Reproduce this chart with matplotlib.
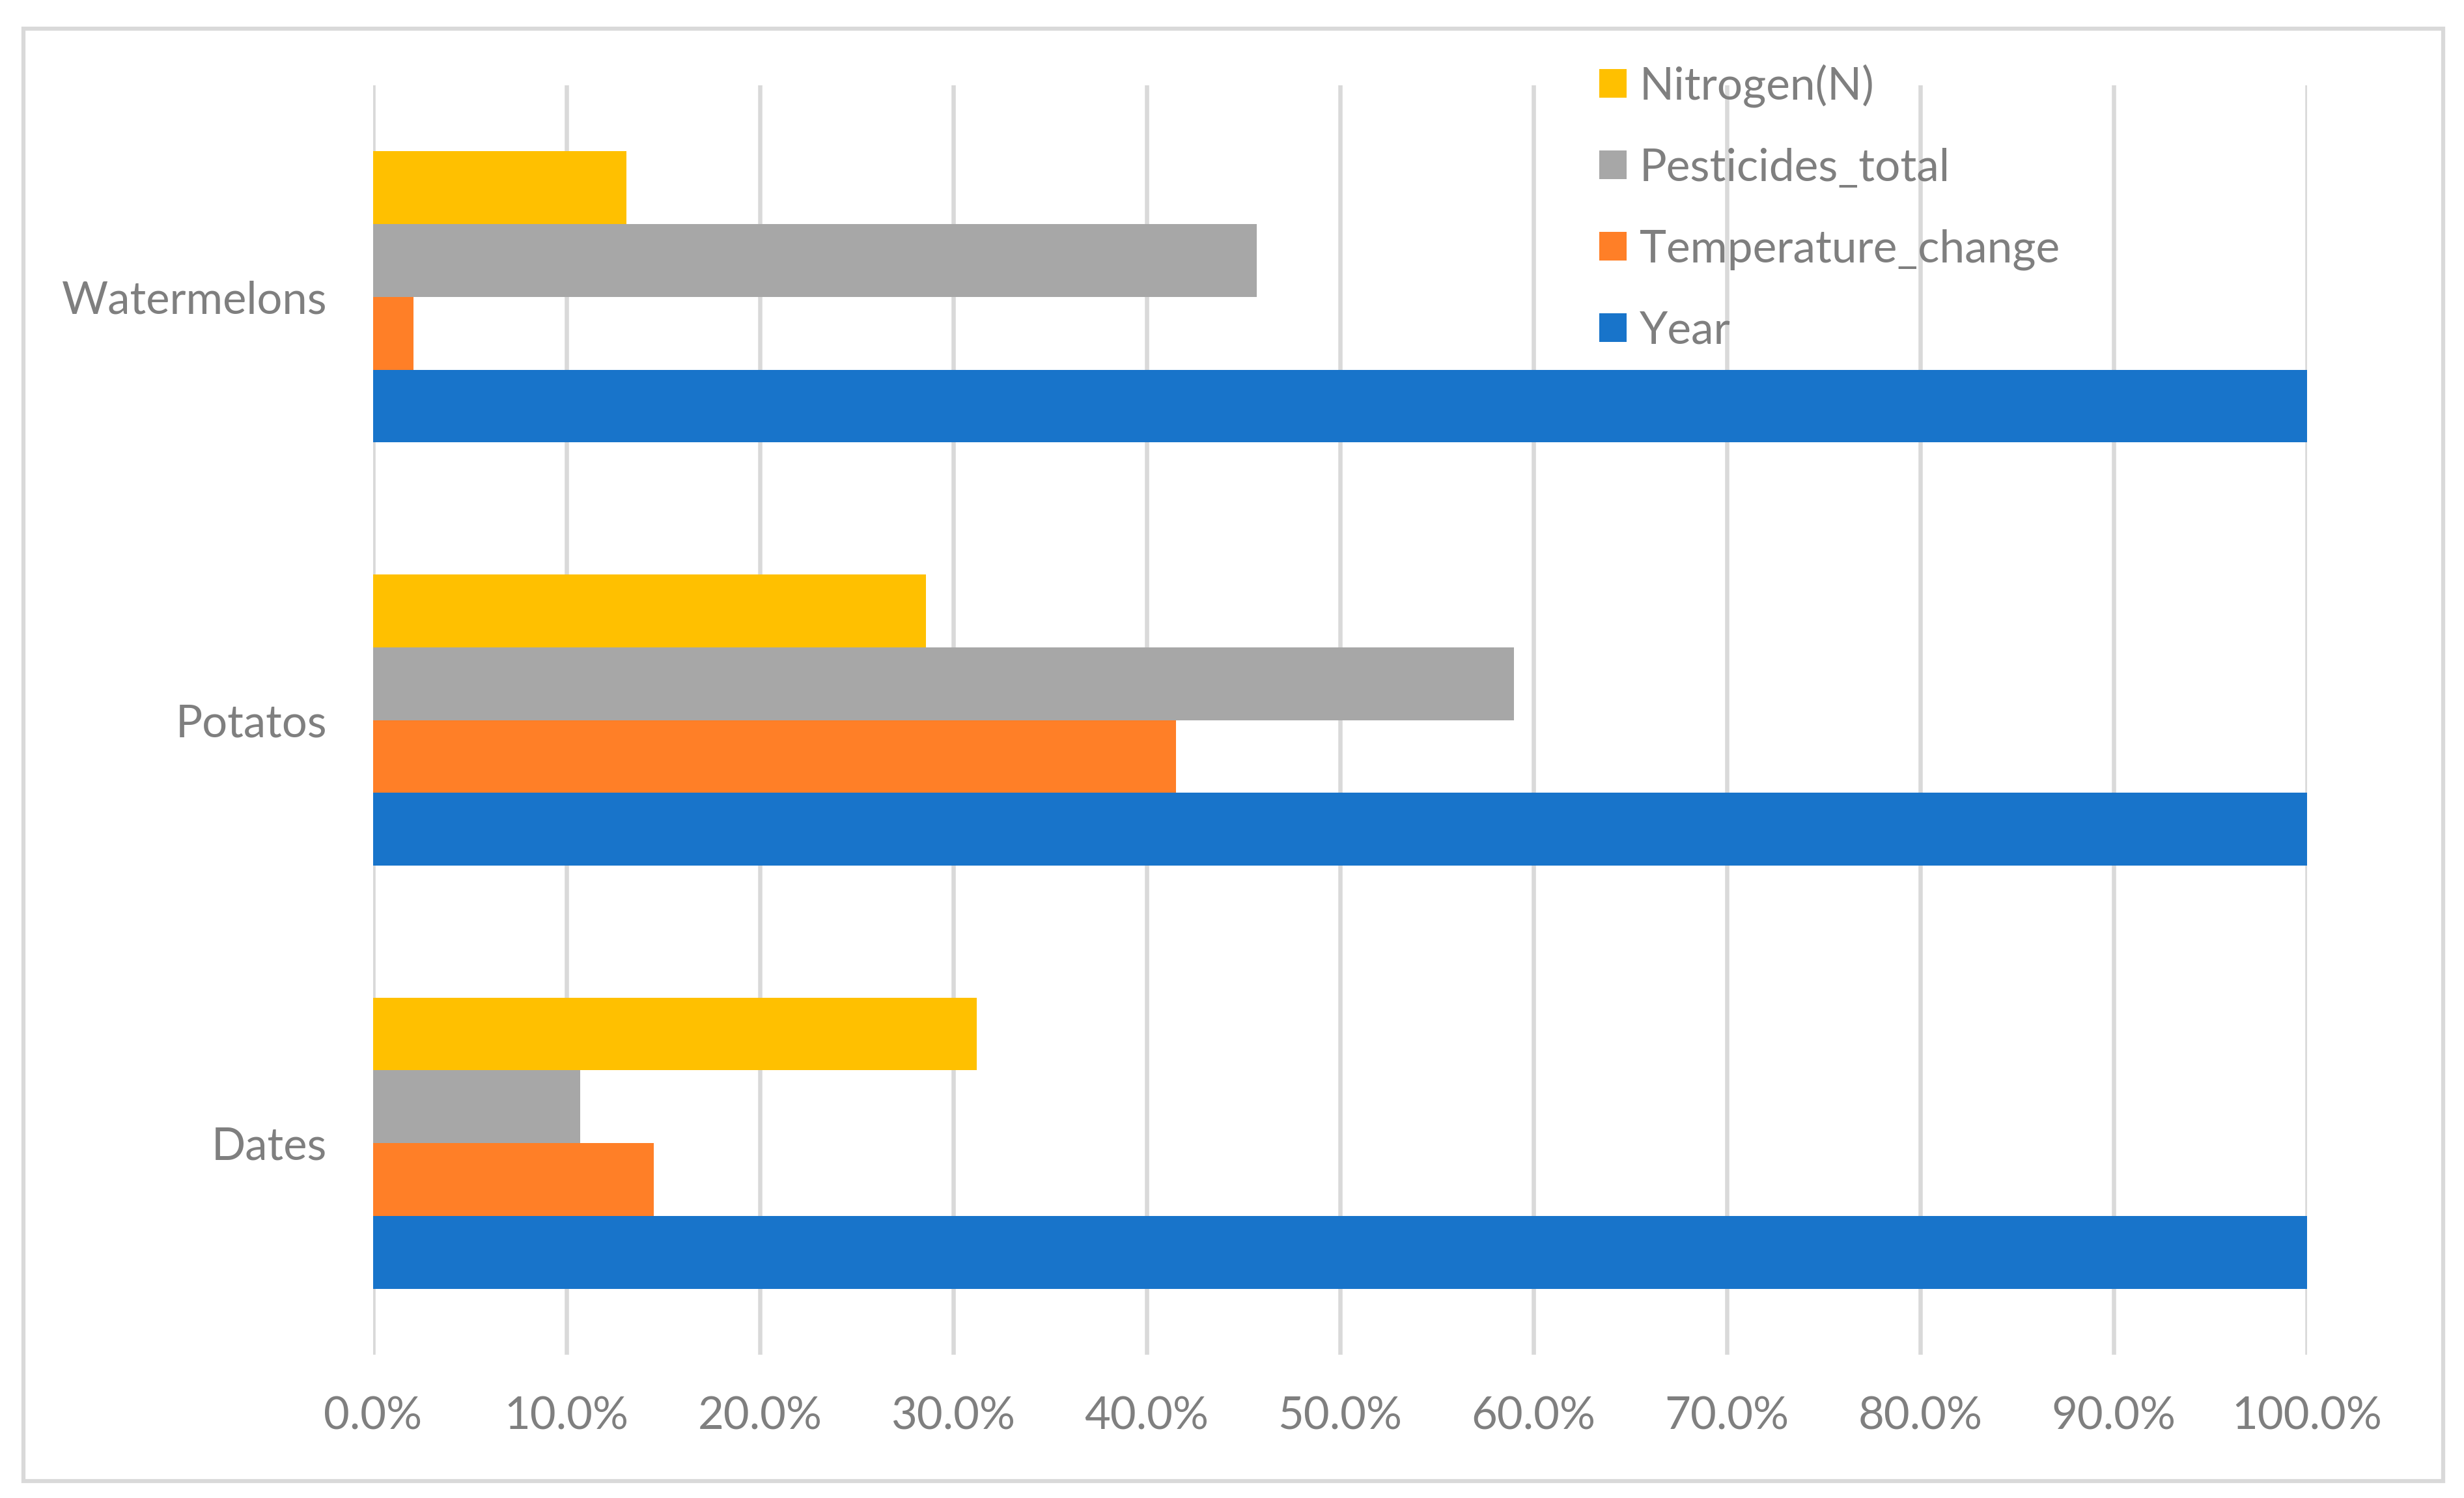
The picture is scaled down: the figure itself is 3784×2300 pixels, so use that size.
import matplotlib
matplotlib.use('Agg')
import matplotlib.pyplot as plt
import numpy as np
from matplotlib.patches import Rectangle

# values (percent)
crops = ['Dates', 'Potatos', 'Watermelons']
year = [100.0, 100.0, 100.0]
temperature_change = [14.5, 41.5, 2.1]
pesticides_total = [10.7, 59.0, 45.7]
nitrogen = [31.2, 28.6, 13.1]
xticks = np.arange(0, 101, 10)
xtick_labels = ['%.1f%%' % t for t in xticks]

plt.rcParams['font.family'] = ['Lato', 'DejaVu Sans']
txt = '#7F7F7F'
grid = '#D9D9D9'

fig = plt.figure(figsize=(37.84, 23), dpi=100)
ax = fig.add_axes([573/3784, 1-2080/2300, (3543-573)/3784, (2080-131)/2300])

y = np.arange(len(crops))
h = 0.172
ax.barh(y - 1.5*h, year, h, color='#1874CA', label='Year', zorder=3)
ax.barh(y - 0.5*h, temperature_change, h, color='#FF7F27', label='Temperature_change', zorder=3)
ax.barh(y + 0.5*h, pesticides_total, h, color='#A7A7A7', label='Pesticides_total', zorder=3)
ax.barh(y + 1.5*h, nitrogen, h, color='#FFC000', label='Nitrogen(N)', zorder=3)

ax.set_xlim(0, 100)
ax.set_ylim(-0.5, 2.5)
ax.set_xticks(xticks)
ax.set_xticklabels(xtick_labels)
ax.set_yticks(y)
ax.set_yticklabels(crops)
ax.tick_params(axis='both', length=0, labelsize=49.5, labelcolor=txt)
ax.tick_params(axis='y', pad=51)
ax.tick_params(axis='x', pad=46)
ax.grid(axis='x', color=grid, linewidth=4.7, zorder=0)
for s in ax.spines.values():
    s.set_visible(False)

handles, labels = ax.get_legend_handles_labels()
leg = ax.legend(handles[::-1], labels[::-1], loc='upper left',
                bbox_to_anchor=(2456/3784, 1-98/2300), bbox_transform=fig.transFigure,
                frameon=False, fontsize=50, labelcolor=txt, borderpad=0,
                handlelength=0.6, handleheight=0.6, handletextpad=0.29,
                labelspacing=0.89, borderaxespad=0)

# outer border
fig.patches.append(Rectangle((35.5/3784, 1-2273.5/2300), (3752-35.5)/3784, (2273.5-44)/2300,
                             transform=fig.transFigure, fill=False, edgecolor=grid,
                             linewidth=4.5, zorder=0))

fig.savefig('out.png', dpi=100)
